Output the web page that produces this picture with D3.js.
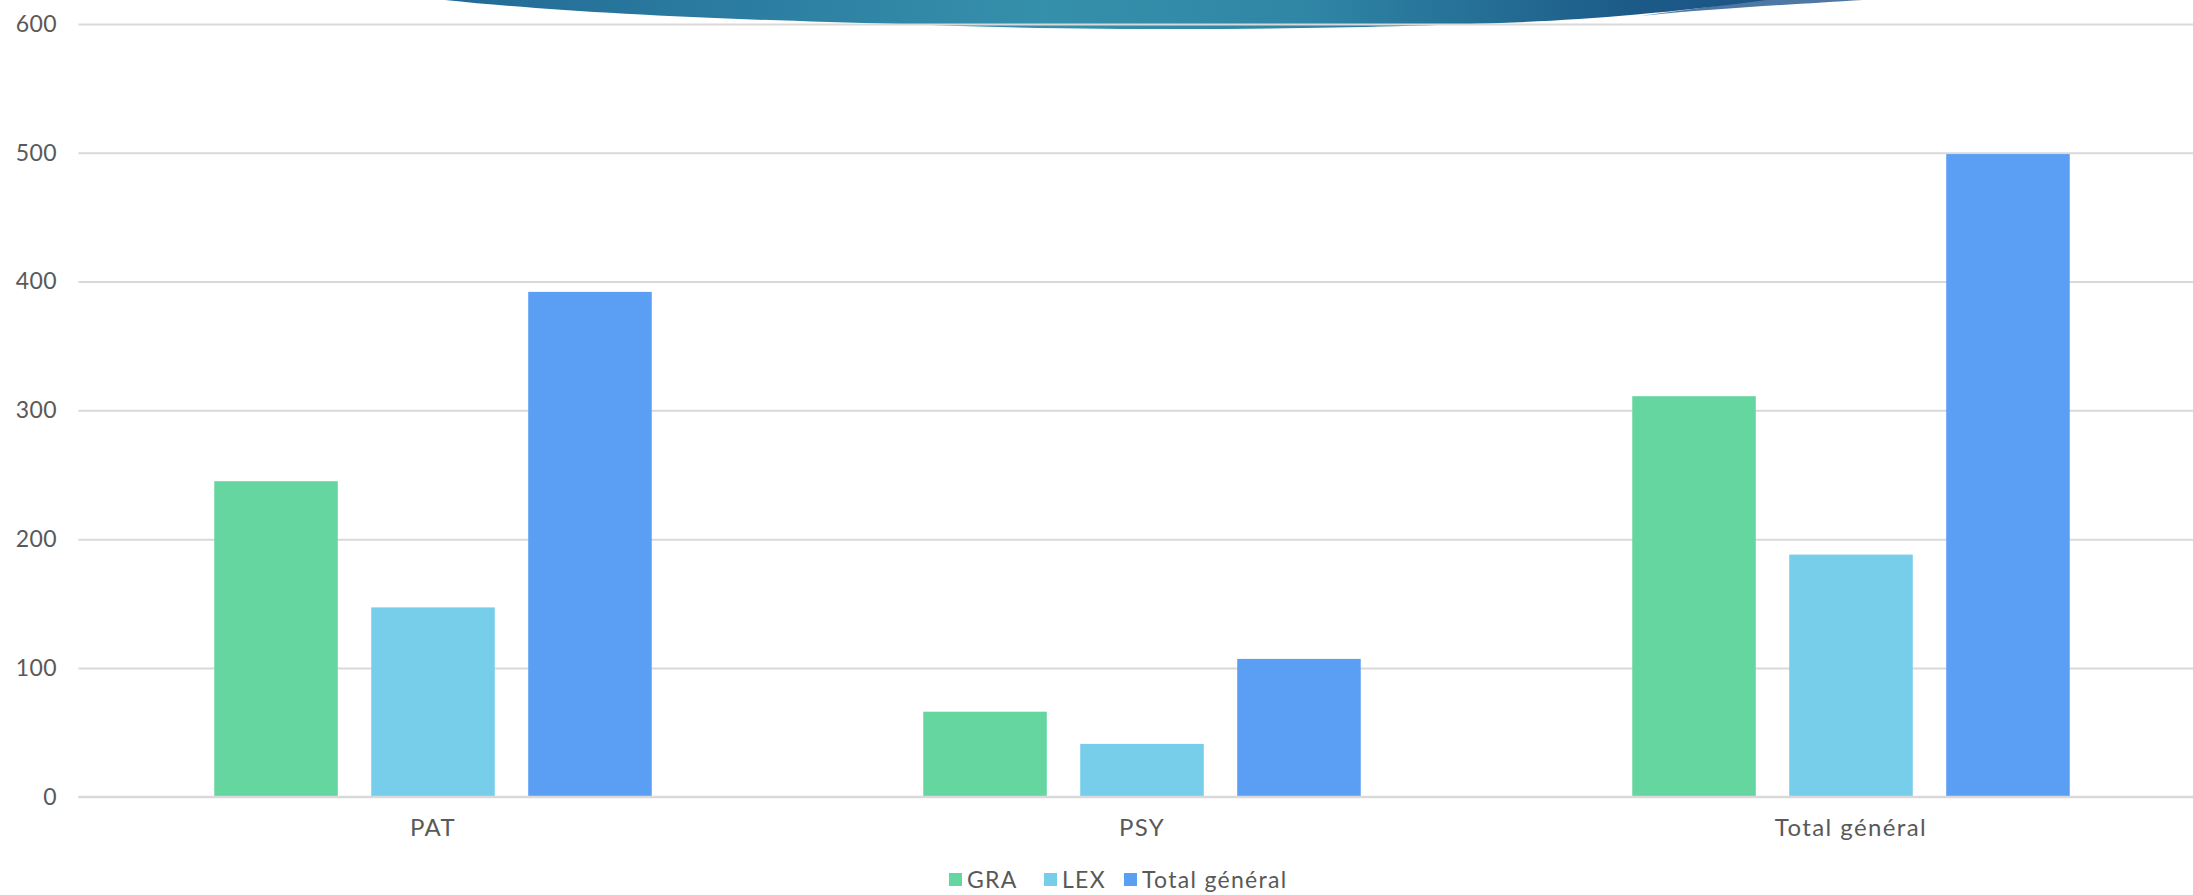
<!DOCTYPE html>
<html>
<head>
<meta charset="utf-8">
<script src="https://cdn.jsdelivr.net/npm/d3@7/dist/d3.min.js"></script>
<style>
  html, body { margin: 0; padding: 0; background: #fff; overflow: hidden; }
  svg text { font-family: "Lato", "Open Sans", sans-serif; font-weight: 400; fill: #595959; }
</style>
</head>
<body>
<div id="chart"></div>
<script>
// Données
const categories = ["PAT", "PSY", "Total général"];
const seriesNames = ["GRA", "LEX", "Total général"];
const seriesColors = ["#66d6a0", "#77ceeb", "#5b9ff5"];
const GRA = [245, 66, 311];
const LEX = [147, 41, 188];
const TOTAL = [392, 107, 499];
const yTicks = [0, 100, 200, 300, 400, 500, 600];

const W = 2193, H = 895;

const svg = d3.select("#chart").append("svg")
    .attr("width", W)
    .attr("height", H);

// Décor en haut (bandeau du modèle)
const defs = svg.append("defs");
const grad = defs.append("linearGradient").attr("id", "swoosh")
    .attr("gradientUnits", "userSpaceOnUse")
    .attr("x1", 445).attr("x2", 1770).attr("y1", 0).attr("y2", 0);
grad.append("stop").attr("offset", "0%").attr("stop-color", "#226a96");
grad.append("stop").attr("offset", "45%").attr("stop-color", "#3590ab");
grad.append("stop").attr("offset", "65%").attr("stop-color", "#2f86a5");
grad.append("stop").attr("offset", "90%").attr("stop-color", "#1c5a88");
grad.append("stop").attr("offset", "100%").attr("stop-color", "#1b5585");

svg.append("path")
    .attr("d", "M1640,16 C1720,8 1800,4 1863,0 L1760,0 Z")
    .attr("fill", "#4f77a3");
svg.append("path")
    .attr("d", "M445,0 C560,12 700,19 900,24 C1000,28 1100,29 1180,29 C1300,29 1420,26 1500,23 C1580,20 1660,14 1767,0 Z")
    .attr("fill", "url(#swoosh)");

// Échelles
const y = d3.scaleLinear().domain([0, 600]).range([796.7, 24]);
const x0 = d3.scaleBand().domain(categories).range([78.5, 2205.5]).padding(0);
const outer = 135.75;
const x1 = d3.scaleBand().domain(seriesNames)
    .range([outer, x0.bandwidth() - outer])
    .paddingInner(0.213).paddingOuter(0);

// Quadrillage
const grid = svg.append("g")
    .attr("transform", `translate(${x0.range()[0]},0)`)
    .call(d3.axisLeft(y).tickValues(yTicks).tickSize(-(W - x0.range()[0])).tickFormat(""));
grid.select(".domain").remove();
grid.selectAll("line").attr("stroke", "#d9d9d9").attr("stroke-width", 2);

// Axe Y
const yAxis = svg.append("g")
    .attr("transform", `translate(57,0)`)
    .call(d3.axisLeft(y).tickValues(yTicks).tickSize(0).tickPadding(0));
yAxis.select(".domain").remove();
yAxis.selectAll("text")
    .style("font-size", "23px")
    .style("letter-spacing", "0.4px")
    .attr("text-anchor", "end")
    .attr("fill", "#595959");

// Barres
const series = [GRA, LEX, TOTAL];
const rows = categories.map((c, i) => ({
    cat: c,
    vals: seriesNames.map((s, j) => ({ name: s, value: series[j][i], color: seriesColors[j] }))
}));

const groups = svg.append("g").selectAll("g")
    .data(rows)
    .join("g")
    .attr("transform", d => `translate(${x0(d.cat)},0)`);

groups.selectAll("rect")
    .data(d => d.vals)
    .join("rect")
    .attr("x", d => x1(d.name))
    .attr("width", x1.bandwidth())
    .attr("y", d => y(d.value))
    .attr("height", d => y(0) - y(d.value))
    .attr("fill", d => d.color);

// Axe X
const xAxis = svg.append("g")
    .attr("transform", `translate(0,${y(0)})`)
    .call(d3.axisBottom(x0).tickSize(0).tickPadding(22));
xAxis.select(".domain")
    .attr("d", `M${x0.range()[0]},0H${W}`)
    .attr("stroke", "#d9d9d9").attr("stroke-width", 2);
xAxis.selectAll("text")
    .style("font-size", "24px")
    .style("letter-spacing", "1.4px")
    .attr("fill", "#595959");

// Légende
const legendX = [949, 1044, 1124];
const legend = svg.append("g").attr("transform", "translate(0,873)");
const items = legend.selectAll("g")
    .data(seriesNames)
    .join("g")
    .attr("transform", (d, i) => `translate(${legendX[i]},0)`);
items.append("rect")
    .attr("width", 13).attr("height", 13)
    .attr("fill", (d, i) => seriesColors[i]);
items.append("text")
    .attr("x", 18).attr("y", 14.5)
    .style("font-size", "23px")
    .style("letter-spacing", "1.3px")
    .text(d => d);
</script>
</body>
</html>
